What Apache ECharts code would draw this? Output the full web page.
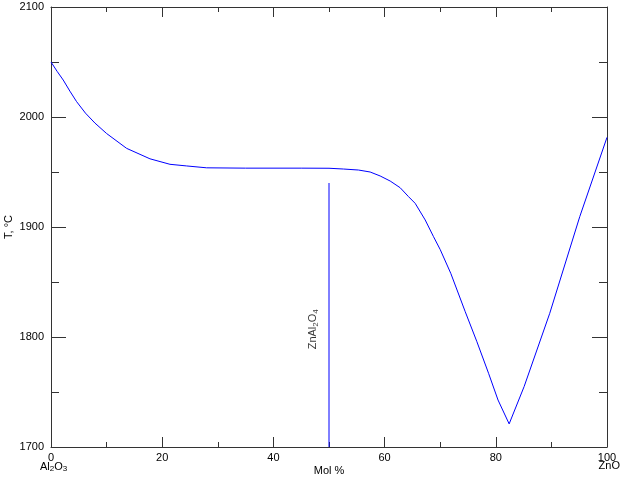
<!DOCTYPE html>
<html><head><meta charset="utf-8">
<script src="https://cdn.jsdelivr.net/npm/echarts@6/dist/echarts.min.js"></script>
<style>html,body{margin:0;padding:0;background:#fff}#c{width:622px;height:480px}</style>
</head><body><div id="c"></div>
<script>
// Liquidus curve, Al2O3 - ZnO system (mol % ZnO, T in °C)
const liquidusX = [0, 1.1, 2.2, 3.4, 4.6, 6.2, 7.9, 10, 13.6, 17.8, 21.4, 24.4, 28, 35, 45, 50, 52.6, 55.3, 57.4, 59.2, 61, 62.8, 64.3, 65.5, 67.3, 68.8, 70, 71.9, 74.5, 76.6, 78.7, 80.4, 82.4, 85.1, 89.7, 95.1, 100];
const liquidusT = [2050, 2041.5, 2033.6, 2023.5, 2014, 2003.5, 1994.5, 1985, 1971.5, 1962, 1957, 1955.5, 1953.8, 1953.5, 1953.5, 1953.4, 1952.7, 1951.8, 1950, 1946.4, 1941.8, 1935.7, 1927.6, 1921.5, 1906.4, 1891.2, 1879.5, 1857.9, 1823, 1795.7, 1767, 1742.7, 1721, 1755, 1821.5, 1909.4, 1981.5];
// Compound ZnAl2O4 vertical line
const compoundX = [50, 50];
const compoundT = [1700, 1940];
const compoundLabelPos = [47.1, 1807];
// Axes
const xTickValues = [0, 20, 40, 60, 80, 100];
const yTickValues = [1700, 1800, 1900, 2000, 2100];

const FONT = "'Liberation Sans', Arial, sans-serif";
const chart = echarts.init(document.getElementById('c'), null, {renderer: 'canvas'});
const axisLine = {show: true, onZero: false, lineStyle: {color: '#333', width: 1}};
const xTickStyle = {show: true, inside: true, length: 10, lineStyle: {color: '#333'}};
const xMinor = {show: true, splitNumber: 2, length: 5, lineStyle: {color: '#333'}};
const yTickStyle = {show: true, inside: true, length: 15, lineStyle: {color: '#333'}};
const yMinor = {show: true, splitNumber: 2, length: 8, lineStyle: {color: '#333'}};
const xMin = xTickValues[0], xMax = xTickValues[xTickValues.length - 1];
const yMin = yTickValues[0], yMax = yTickValues[yTickValues.length - 1];
const plain = v => String(v);

chart.setOption({
  animation: false,
  backgroundColor: '#fff',
  textStyle: {fontFamily: FONT},
  grid: {left: 51, right: 15, top: 7, bottom: 33, containLabel: false, outerBoundsMode: 'none'},
  xAxis: [{
    type: 'value', min: xMin, max: xMax, interval: 20, position: 'bottom',
    axisLine, axisTick: xTickStyle, minorTick: xMinor, splitLine: {show: false},
    axisLabel: {color: '#000', fontSize: 11, margin: 5, fontFamily: FONT, formatter: plain},
    name: 'Mol %', nameLocation: 'middle', nameGap: 18, nameMoveOverlap: false,
    nameTextStyle: {color: '#000', fontSize: 11, fontFamily: FONT}
  }, {
    type: 'value', min: xMin, max: xMax, interval: 20, position: 'top',
    axisLine, axisTick: xTickStyle, minorTick: xMinor, splitLine: {show: false},
    axisLabel: {show: false}
  }],
  yAxis: [{
    type: 'value', min: yMin, max: yMax, interval: 100, position: 'left',
    axisLine, axisTick: yTickStyle, minorTick: yMinor, splitLine: {show: false},
    axisLabel: {color: '#000', fontSize: 11, margin: 7, fontFamily: FONT, formatter: plain},
    name: 'T, °C', nameLocation: 'middle', nameGap: 37, nameMoveOverlap: false,
    nameTextStyle: {color: '#000', fontSize: 11, fontFamily: FONT}
  }, {
    type: 'value', min: yMin, max: yMax, interval: 100, position: 'right',
    axisLine, axisTick: yTickStyle, minorTick: yMinor, splitLine: {show: false},
    axisLabel: {show: false}
  }],
  series: [{
    type: 'line', name: 'liquidus', showSymbol: false, symbol: 'none',
    data: liquidusX.map((x, i) => [x, liquidusT[i]]),
    lineStyle: {color: '#0000ff', width: 1}, smooth: false
  }, {
    type: 'line', name: 'ZnAl2O4', showSymbol: false, symbol: 'none',
    data: compoundX.map((x, i) => [x, compoundT[i]]),
    lineStyle: {color: '#0000ff', width: 1}
  }, {
    type: 'scatter', symbolSize: 0, silent: true,
    data: [compoundLabelPos],
    label: {
      show: true, position: 'inside', rotate: 90, color: '#000',
      formatter: '{a|ZnAl}{s|2}{a|O}{s|4}',
      rich: {
        a: {fontSize: 11, fontFamily: FONT, color: '#000', lineHeight: 14},
        s: {fontSize: 8, fontFamily: FONT, color: '#000', lineHeight: 14, padding: [5, 0, 0, 0]}
      }
    }
  }],
  graphic: [{
    type: 'text', left: 40, top: 460,
    style: {
      text: '{a|Al}{s|2}{a|O}{s|3}', fill: '#000',
      rich: {
        a: {fontSize: 11, fontFamily: FONT, fill: '#000', lineHeight: 14},
        s: {fontSize: 8, fontFamily: FONT, fill: '#000', lineHeight: 14, padding: [5, 0, 0, 0]}
      }
    }
  }, {
    type: 'text', right: 2, top: 460,
    style: {text: 'ZnO', fontSize: 11, fontFamily: FONT, fill: '#000'}
  }]
});
</script>
</body></html>
